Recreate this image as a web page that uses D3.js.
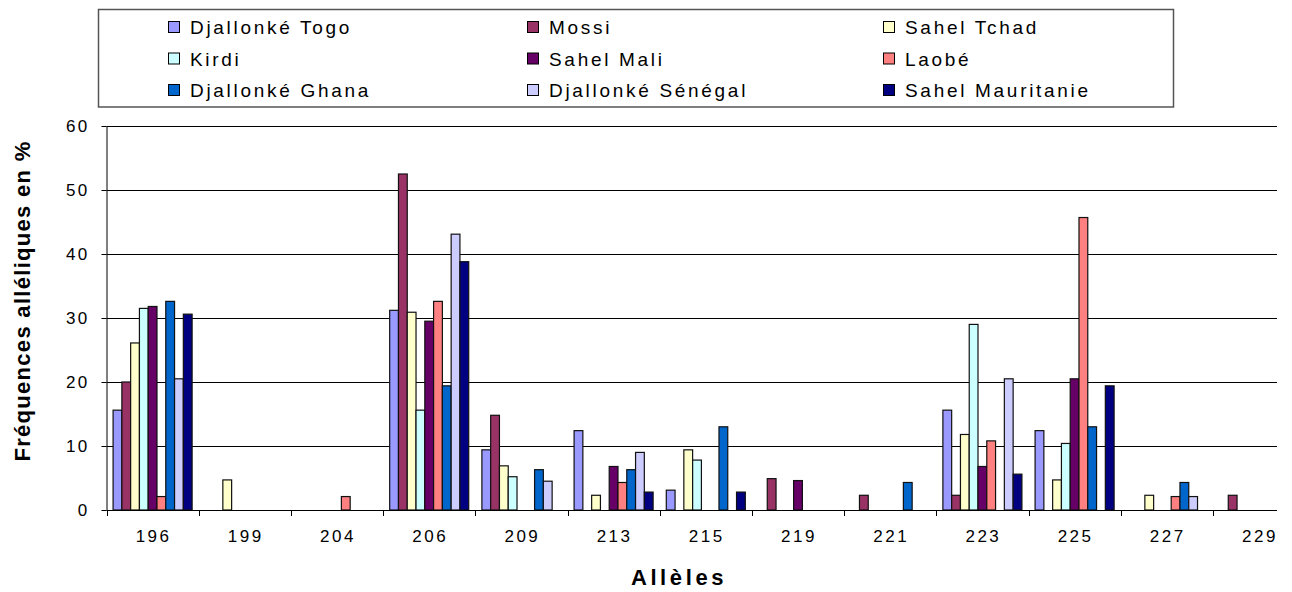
<!DOCTYPE html>
<html><head><meta charset="utf-8">
<script src="https://cdn.jsdelivr.net/npm/d3@7"></script>
<style>
html,body{margin:0;padding:0;background:#fff;}
svg{display:block;}
text{font-family:"Liberation Sans",Arial,sans-serif;fill:#000;}
</style></head>
<body>
<svg id="chart" width="1292" height="592"></svg>
<script>
const categories = ["196","199","204","206","209","213","215","219","221","223","225","227","229"];
const seriesNames = ["Djallonké Togo","Mossi","Sahel Tchad","Kirdi","Sahel Mali","Laobé","Djallonké Ghana","Djallonké Sénégal","Sahel Mauritanie"];
const djallonkeTogo    = [15.6, 0,   0,   31.2, 9.4,  12.4, 3.1,  0,   0,   15.6, 12.4, 0,   0];
const mossi            = [20.0, 0,   0,   52.5, 14.8, 0,    0,    4.9, 2.3, 2.3,  0,    0,   2.3];
const sahelTchad       = [26.1, 4.7, 0,   30.9, 6.9,  2.3,  9.4,  0,   0,   11.8, 4.7,  2.3, 0];
const kirdi            = [31.5, 0,   0,   15.6, 5.2,  0,    7.8,  0,   0,   29.0, 10.4, 0,   0];
const sahelMali        = [31.8, 0,   0,   29.5, 0,    6.8,  0,    4.6, 0,   6.8,  20.5, 0,   0];
const laobe            = [2.1,  0,   2.1, 32.6, 0,    4.3,  0,    0,   0,   10.8, 45.7, 2.1, 0];
const djallonkeGhana   = [32.6, 0,   0,   19.4, 6.3,  6.3,  13.0, 0,   4.3, 0,    13.0, 4.3, 0];
const djallonkeSenegal = [20.5, 0,   0,   43.1, 4.5,  9.0,  0,    0,   0,   20.5, 0,    2.1, 0];
const sahelMauritanie  = [30.6, 0,   0,   38.8, 0,    2.8,  2.8,  0,   0,   5.6,  19.4, 0,   0];
const yTicks = [0,10,20,30,40,50,60];
const colors = ["#9999FF","#993366","#FFFFCC","#CCFFFF","#660066","#FF8080","#0066CC","#CCCCFF","#000080"];

const seriesValues = [djallonkeTogo,mossi,sahelTchad,kirdi,sahelMali,laobe,djallonkeGhana,djallonkeSenegal,sahelMauritanie];

(function(){
const svg = d3.select("#chart");
const pLeft = 106.5, pTop = 126, pBottom = 510, step = 92.2;
const plotRight = 1277;

const x = d3.scaleBand().domain(categories).range([pLeft, pLeft + step*categories.length]).padding(0);
const xs = d3.scaleBand().domain(seriesNames).range([0, x.bandwidth()]).paddingInner(0).paddingOuter(0.75);
const y = d3.scaleLinear().domain([0,60]).range([pBottom, pTop]);

// gridlines
svg.append("g").selectAll("line").data(yTicks.filter(d=>d>0)).join("line")
  .attr("x1", pLeft).attr("x2", plotRight)
  .attr("y1", d=>Math.round(y(d))+0.5).attr("y2", d=>Math.round(y(d))+0.5)
  .attr("stroke","#000").attr("stroke-width",1);

// bars
const bars = [];
seriesValues.forEach((vals, si) => vals.forEach((v, ci) => { if (v > 0) bars.push({s: seriesNames[si], si, c: categories[ci], v}); }));
svg.append("g").selectAll("rect").data(bars).join("rect")
  .attr("x", d => x(d.c) + xs(d.s))
  .attr("y", d => y(d.v))
  .attr("width", xs.bandwidth())
  .attr("height", d => y(0) - y(d.v))
  .attr("fill", d => colors[d.si])
  .attr("stroke", "#111").attr("stroke-width", 1.2);

// y axis
const yAxis = d3.axisLeft(y).tickValues(yTicks).tickSize(5).tickPadding(12).tickSizeOuter(0);
const gy = svg.append("g").attr("transform", `translate(${pLeft},0)`).call(yAxis);
gy.select(".domain").attr("stroke","#000");
gy.selectAll(".tick line").attr("stroke","#000");
gy.selectAll(".tick text").attr("font-size", 17).attr("letter-spacing", "2.3px")
  .attr("font-family", '"Liberation Sans",Arial,sans-serif').attr("fill","#000");

// x axis
svg.append("line").attr("x1", pLeft).attr("x2", plotRight).attr("y1", pBottom+0.5).attr("y2", pBottom+0.5).attr("stroke","#000");
const boundaries = categories.map(c => x(c)).filter(v => v <= plotRight);
svg.append("g").selectAll("line").data(boundaries).join("line")
  .attr("x1", d => Math.round(d)+0.5).attr("x2", d => Math.round(d)+0.5)
  .attr("y1", pBottom).attr("y2", pBottom+6).attr("stroke","#000");
svg.append("g").selectAll("text").data(categories).join("text")
  .attr("x", d => x(d) + x.bandwidth()/2 + 1)
  .attr("y", 542)
  .attr("text-anchor","middle")
  .attr("font-size", 17).attr("letter-spacing","2.5px")
  .text(d => d);

// axis titles
svg.append("text").attr("x", 679).attr("y", 585).attr("text-anchor","middle")
  .attr("font-size", 22).attr("font-weight","bold").attr("letter-spacing","3.6px").text("Allèles");
svg.append("text").attr("transform","translate(30,301) rotate(-90)").attr("text-anchor","middle")
  .attr("font-size", 22).attr("font-weight","bold").attr("letter-spacing","1.3px").text("Fréquences alléliques en %");

// legend
svg.append("rect").attr("x", 98.5).attr("y", 9.5).attr("width", 1075).attr("height", 97.5)
  .attr("fill","#fff").attr("stroke","#555").attr("stroke-width",1.5);
const legCols = [168, 527, 883], legRows = [27, 58.5, 90];
const lg = svg.append("g").selectAll("g").data(seriesNames).join("g")
  .attr("transform", (d,i) => `translate(${legCols[i%3]},${legRows[Math.floor(i/3)]})`);
lg.append("rect").attr("x",0.5).attr("y",-5.5).attr("width",11).attr("height",11)
  .attr("fill",(d,i)=>colors[i]).attr("stroke","#000").attr("stroke-width",1);
lg.append("text").attr("x",22).attr("y",7).attr("font-size",19).attr("letter-spacing","2.7px").text(d=>d);
})();
</script>
</body></html>
